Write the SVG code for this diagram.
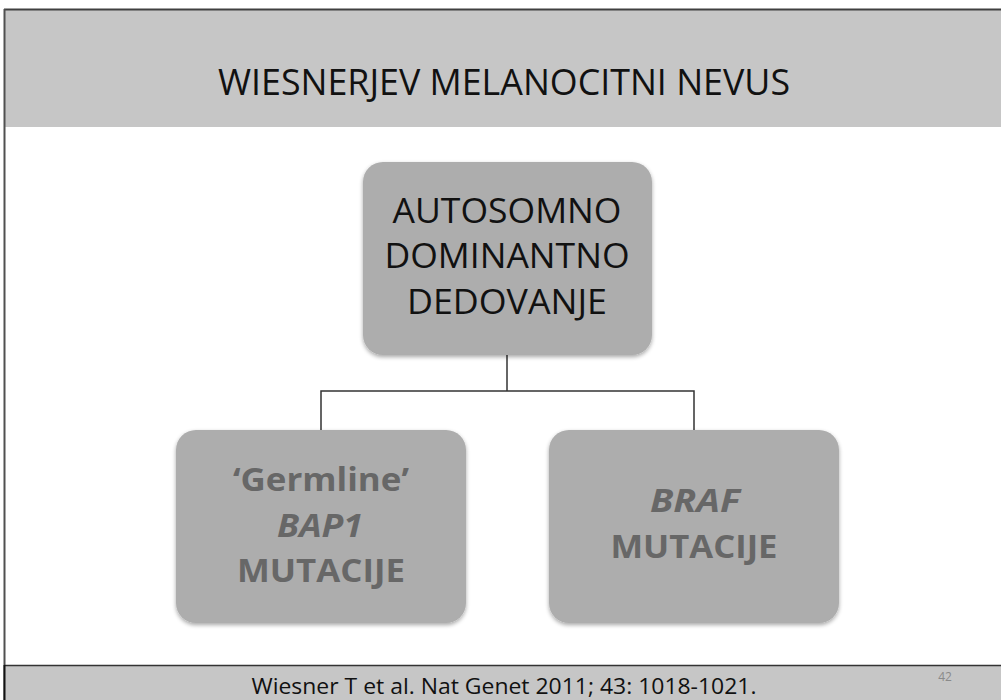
<svg xmlns="http://www.w3.org/2000/svg" width="1001" height="700" viewBox="0 0 1001 700">
<defs>
<style>
.t{font-family:"Open Sans","Liberation Sans",sans-serif;text-anchor:middle}
.top{font-size:35px;fill:#111}
.sub{font-size:33px;font-weight:bold;fill:#676767}
.it{font-style:italic}
.box{fill:#adadad;filter:url(#sh)}
.conn{stroke:#333;stroke-width:1.5;fill:none}
</style>
<filter id="sh" x="-10%" y="-10%" width="120%" height="120%">
<feGaussianBlur in="SourceAlpha" stdDeviation="2"/>
<feOffset dx="0" dy="2" result="b"/>
<feComponentTransfer><feFuncA type="linear" slope="0.35"/></feComponentTransfer>
<feMerge><feMergeNode/><feMergeNode in="SourceGraphic"/></feMerge>
</filter>
</defs>
<rect x="0" y="0" width="1001" height="700" fill="#fff"/>
<g id="header">
<rect x="4" y="9" width="997" height="118" fill="#c6c6c6"/>
<line x1="4" y1="9.5" x2="1001" y2="9.5" stroke="#404040" stroke-width="2"/>
<text class="t" x="504" y="95" font-size="36" fill="#111" textLength="572" lengthAdjust="spacingAndGlyphs">WIESNERJEV MELANOCITNI NEVUS</text>
</g>
<line x1="4.5" y1="9" x2="4.5" y2="700" stroke="#505050" stroke-width="2"/>
<g id="footer">
<rect x="4" y="665" width="997" height="35" fill="#c6c6c6"/>
<line x1="4" y1="665.5" x2="1001" y2="665.5" stroke="#333" stroke-width="1.5"/>
<line x1="4.5" y1="665" x2="4.5" y2="700" stroke="#111" stroke-width="2"/>
<text class="t" x="504" y="694" font-size="22" fill="#111" textLength="505" lengthAdjust="spacingAndGlyphs">Wiesner T et al. Nat Genet 2011; 43: 1018-1021.</text>
<text class="t" x="945" y="681" font-size="12" fill="#8a8a8a">42</text>
</g>
<g id="connectors">
<path class="conn" d="M507 354 V391"/>
<path class="conn" d="M321 430 V391 H694 V430" stroke="#555"/>
</g>
<g id="node-top">
<rect class="box" x="363" y="162" width="289" height="193" rx="20"/>
<text class="t top" x="507" y="223" textLength="229" lengthAdjust="spacingAndGlyphs">AUTOSOMNO</text>
<text class="t top" x="507" y="268" textLength="245" lengthAdjust="spacingAndGlyphs">DOMINANTNO</text>
<text class="t top" x="507" y="314" textLength="200" lengthAdjust="spacingAndGlyphs">DEDOVANJE</text>
</g>
<g id="node-bap1">
<rect class="box" x="176" y="430" width="290" height="193" rx="20"/>
<text class="t sub" x="321" y="491" textLength="176" lengthAdjust="spacingAndGlyphs">‘Germline’</text>
<text class="t sub it" x="320" y="537" textLength="86" lengthAdjust="spacingAndGlyphs">BAP1</text>
<text class="t sub" x="321" y="582" textLength="168" lengthAdjust="spacingAndGlyphs">MUTACIJE</text>
</g>
<g id="node-braf">
<rect class="box" x="549" y="430" width="290" height="193" rx="20"/>
<text class="t sub it" x="695" y="512" textLength="90" lengthAdjust="spacingAndGlyphs">BRAF</text>
<text class="t sub" x="694" y="558" textLength="167" lengthAdjust="spacingAndGlyphs">MUTACIJE</text>
</g>
</svg>
